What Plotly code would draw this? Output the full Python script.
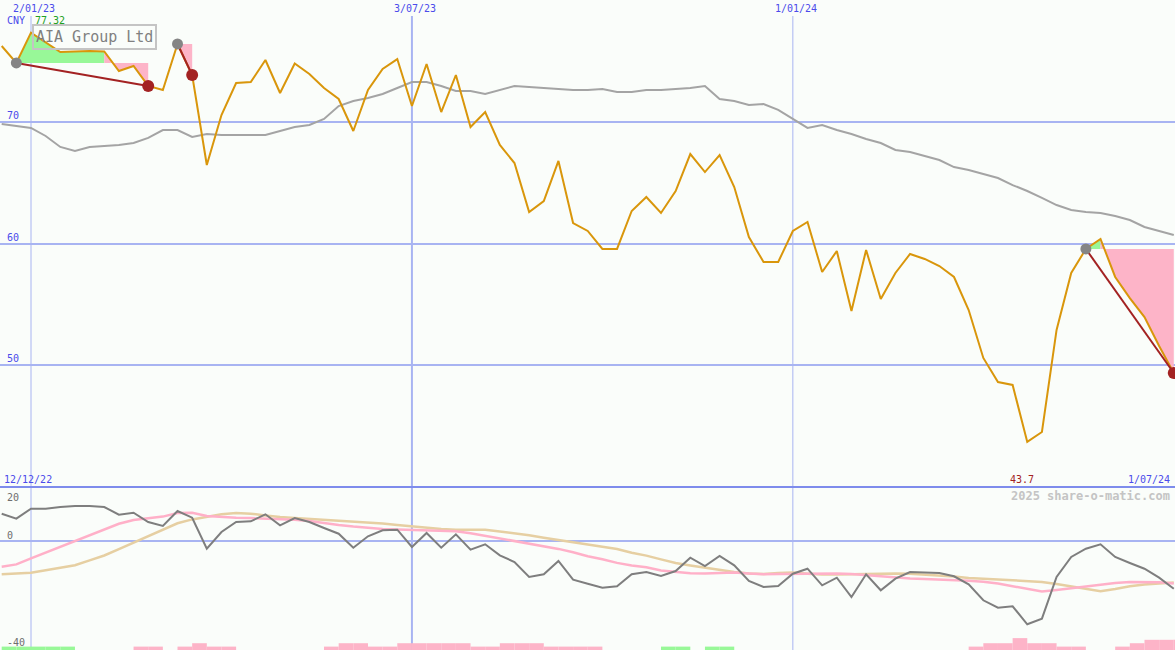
import plotly.graph_objects as go
import pandas as pd

# ---------------- data ----------------
dates = pd.date_range("2022-12-19", periods=81, freq="7D")

price = [76.22, 74.83, 77.32, 76.55, 75.73, 75.77, 75.81, 75.77, 74.17, 74.58,
         72.94, 72.61, 76.39, 73.84, 66.45, 70.55, 73.18, 73.26, 75.07, 72.36,
         74.78, 73.92, 72.77, 71.87, 69.24, 72.61, 74.33, 75.15, 71.29, 74.74,
         70.80, 73.84, 69.57, 70.80, 68.09, 66.61, 62.59, 63.49, 66.78, 61.68,
         61.03, 59.55, 59.55, 62.67, 63.82, 62.51, 64.31, 67.35, 65.87, 67.27,
         64.64, 60.53, 58.48, 58.48, 61.03, 61.77, 57.66, 59.38, 54.46, 59.47,
         55.44, 57.58, 59.14, 58.73, 58.15, 57.25, 54.54, 50.60, 48.62, 48.38,
         43.70, 44.52, 52.90, 57.58, 59.55, 60.37, 57.25, 55.52, 53.96, 51.58,
         49.36]

ma_price = [69.82, 69.65, 69.49, 68.83, 67.93, 67.60, 67.93, 68.01, 68.09, 68.25,
            68.67, 69.32, 69.32, 68.75, 68.99, 68.91, 68.91, 68.91, 68.91, 69.24,
            69.57, 69.73, 70.23, 71.29, 71.70, 71.95, 72.28, 72.77, 73.26, 73.26,
            72.94, 72.53, 72.53, 72.28, 72.61, 72.94, 72.85, 72.77, 72.69, 72.61,
            72.61, 72.69, 72.44, 72.44, 72.61, 72.61, 72.69, 72.77, 72.94, 71.87,
            71.70, 71.38, 71.46, 70.97, 70.23, 69.49, 69.73, 69.32, 68.99, 68.58,
            68.25, 67.68, 67.52, 67.19, 66.86, 66.28, 66.04, 65.71, 65.38, 64.80,
            64.31, 63.74, 63.16, 62.75, 62.59, 62.51, 62.26, 61.93, 61.36, 61.03,
            60.70]

osc = [10.92, 8.92, 12.92, 12.92, 13.6, 14.0, 14.0, 13.6, 10.52, 11.32,
       7.6, 6.0, 12.0, 9.32, -3.08, 3.6, 7.6, 7.88, 10.68, 6.28,
       9.2, 7.6, 5.2, 2.92, -2.68, 1.88, 4.28, 4.52, -2.4, 3.2,
       -2.68, 2.68, -3.48, -1.32, -5.72, -8.4, -14.4, -13.32, -8.0, -15.48,
       -17.08, -18.68, -18.12, -13.32, -12.4, -14.0, -12.0, -6.68, -10.0, -6.0,
       -9.72, -16.0, -18.4, -18.0, -13.08, -11.08, -17.72, -14.68, -22.4, -13.32,
       -19.72, -15.08, -12.4, -12.6, -12.8, -14.12, -17.32, -23.72, -26.68, -26.12,
       -33.32, -31.08, -14.4, -6.4, -3.08, -1.32, -6.4, -8.8, -11.08, -14.68,
       -19.08]

osc_fast = [-10.28, -9.36, -6.92, -4.64, -2.36, -0.08, 2.24, 4.8, 6.88, 8.4,
            9.08, 9.76, 11.2, 11.28, 10.0, 9.6, 9.28, 9.16, 9.04, 8.88,
            8.52, 8.0, 7.12, 6.4, 5.76, 5.24, 4.8, 4.56, 4.4, 4.28,
            4.08, 3.88, 3.12, 2.08, 1.0, -0.16, -1.2, -2.12, -3.16, -4.52,
            -6.08, -7.32, -8.76, -9.76, -10.48, -11.76, -12.4, -12.88, -12.96, -12.64,
            -12.56, -12.96, -13.32, -13.2, -13.08, -13.0, -12.88, -13.0, -13.24, -13.68,
            -14.2, -14.6, -14.96, -15.2, -15.4, -15.6, -15.88, -16.32, -17.04, -18.08,
            -19.08, -20.24, -19.64, -18.92, -18.16, -17.32, -16.76, -16.4, -16.4, -16.48,
            -17.04]

osc_slow = [-13.28, -13.04, -12.72, -11.72, -10.72, -9.72, -7.76, -5.8, -3.28, -0.72,
            2.12, 4.68, 7.08, 8.64, 9.8, 10.68, 11.2, 10.92, 10.24, 9.56,
            9.2, 8.84, 8.52, 8.2, 7.88, 7.44, 6.96, 6.4, 5.84, 5.2,
            4.8, 4.52, 4.52, 4.52, 3.84, 3.16, 2.28, 1.32, 0.44, -0.4,
            -1.48, -2.32, -3.24, -4.68, -5.84, -7.36, -8.8, -9.76, -10.64, -11.52,
            -12.36, -12.96, -13.24, -12.8, -12.6, -13.08, -13.44, -13.4, -13.28, -13.0,
            -12.8, -12.96, -13.12, -13.44, -13.76, -14.24, -14.76, -15.2, -15.44, -15.72,
            -16.04, -16.36, -17.24, -18.2, -19.16, -20.12, -19.2, -18.12, -17.36, -16.88,
            -16.56]

bar_up = [1, 1, 1, 1, 1, 0, 0, 0, 0, 0,
          0, 0, 0, 0, 0, 0, 0, 0, 0, 0,
          0, 0, 0, 0, 0, 0, 0, 0, 0, 0,
          0, 0, 0, 0, 0, 0, 0, 0, 0, 0,
          0, 0, 0, 0, 0, 1, 1, 0, 1, 1,
          0, 0, 0, 0, 0, 0, 0, 0, 0, 0,
          0, 0, 0, 0, 0, 0, 0, 0, 0, 0,
          0, 0, 0, 0, 0, 0, 0, 0, 0, 0,
          0]

bar_down = [0, 0, 0, 0, 0, 0, 0, 0, 0, 1,
            1, 0, 1, 2, 1, 1, 0, 0, 0, 0,
            0, 0, 1, 2, 2, 1, 1, 2, 2, 2,
            2, 2, 1, 1, 2, 2, 2, 1, 1, 1,
            1, 0, 0, 0, 0, 0, 0, 0, 0, 0,
            0, 0, 0, 0, 0, 0, 0, 0, 0, 0,
            0, 0, 0, 0, 0, 0, 1, 2, 2, 3.5,
            2, 2, 1, 1, 0, 0, 1, 2, 3, 3,
            3]

buy_idx = [1, 12, 74]
sell_idx = [10, 13, 80]

date_ticks = ["2023-01-02", "2023-07-03", "2024-01-01"]
date_tick_text = ["2/01/23", "3/07/23", "1/01/24"]
price_grid = [50, 60, 70]
osc_labels = [20, 0, -40]
start_label = "12/12/22"
end_label = "1/07/24"
currency = "CNY"
title = "AIA Group Ltd"
credit = "2025 share-o-matic.com"

# ---------------- style ----------------
BG = "#FAFDFA"
GRID = "#A8B4F2"
SEP = "#7E8CEC"
BLUE_TXT = "#4B4BEB"
ORANGE = "#D9960B"
PINK = "#FDB4C8"
GREEN = "#98F898"
DARKRED = "#A32222"
MONO = "DejaVu Sans Mono"

H = 650.0
W = 1175.0
split = 163 / H

fig = go.Figure()

# trade fills (between entry level and price)
for b, s in zip(buy_idx, sell_idx):
    level = price[b]
    i = b
    while i < s:
        up = price[i + 1] >= level
        j = i
        while j < s and (price[j + 1] >= level) == up:
            j += 1
        xs = [dates[i]] + list(dates[i:j + 1]) + [dates[j]]
        ys = [level] + price[i:j + 1] + [level]
        fig.add_trace(go.Scatter(x=xs, y=ys, fill="toself", mode="lines",
                                 line=dict(width=0), fillcolor=GREEN if up else PINK,
                                 hoverinfo="skip", yaxis="y"))
        i = j

# moving average of price
fig.add_trace(go.Scatter(x=dates, y=ma_price, mode="lines",
                         line=dict(color="#A4A4A4", width=2), yaxis="y"))
# price
fig.add_trace(go.Scatter(x=dates, y=price, mode="lines",
                         line=dict(color=ORANGE, width=2), yaxis="y"))
# trade lines
for b, s in zip(buy_idx, sell_idx):
    fig.add_trace(go.Scatter(x=[dates[b], dates[s]], y=[price[b], price[s]], mode="lines",
                             line=dict(color=DARKRED, width=2), yaxis="y"))
# entry / exit markers
fig.add_trace(go.Scatter(x=[dates[b] for b in buy_idx], y=[price[b] for b in buy_idx],
                         mode="markers", marker=dict(color="#858585", size=11), yaxis="y"))
fig.add_trace(go.Scatter(x=[dates[s] for s in sell_idx], y=[price[s] for s in sell_idx],
                         mode="markers", marker=dict(color=DARKRED, size=12), yaxis="y"))

# lower panel bars
week_ms = 7 * 24 * 3600 * 1000
fig.add_trace(go.Bar(x=dates, y=bar_up, marker=dict(color=GREEN, line=dict(width=0)),
                     width=week_ms, offset=0, yaxis="y3"))
fig.add_trace(go.Bar(x=dates, y=bar_down, marker=dict(color=PINK, line=dict(width=0)),
                     width=week_ms, offset=0, yaxis="y3"))

# lower panel lines
fig.add_trace(go.Scatter(x=dates, y=osc_slow, mode="lines",
                         line=dict(color="#E6CFA2", width=2.5), yaxis="y2"))
fig.add_trace(go.Scatter(x=dates, y=osc_fast, mode="lines",
                         line=dict(color="#FFB0C8", width=2.5), yaxis="y2"))
fig.add_trace(go.Scatter(x=dates, y=osc, mode="lines",
                         line=dict(color="#7E7E7E", width=2), yaxis="y2"))

# vertical date lines
shapes = []
for k, d in enumerate(date_ticks):
    shapes.append(dict(type="line", xref="x", yref="paper", x0=d, x1=d,
                       y0=0, y1=1 - 16 / H, layer="below",
                       line=dict(color=GRID, width=2 if k == 1 else 1)))
shapes.append(dict(type="line", xref="paper", yref="paper", x0=0, x1=1,
                   y0=split, y1=split, layer="below", line=dict(color=SEP, width=2)))

ann = []
for d, t in zip(date_ticks, date_tick_text):
    ann.append(dict(x=d, xref="x", y=1 - 8 / H, yref="paper", text=t, showarrow=False,
                    xanchor="center", yanchor="middle", xshift=3,
                    font=dict(family=MONO, size=10, color=BLUE_TXT)))
for v in price_grid:
    ann.append(dict(x=5 / W, xref="paper", y=v, yref="y", text=str(v), showarrow=False,
                    xanchor="left", yanchor="bottom", yshift=-1,
                    font=dict(family=MONO, size=10, color=BLUE_TXT)))
shifts = {20: -6, 0: 6, -40: -1}
for v in osc_labels:
    ann.append(dict(x=5 / W, xref="paper", y=v, yref="y2", text=str(v), showarrow=False,
                    xanchor="left", yanchor="middle", yshift=shifts[v],
                    font=dict(family=MONO, size=10, color="#6E6E6E")))

hi = max(price)
lo = min(price)
lo_i = price.index(lo)
ann += [
    dict(x=5 / W, xref="paper", y=1 - 21 / H, yref="paper", text=currency, showarrow=False,
         xanchor="left", yanchor="middle", font=dict(family=MONO, size=10, color=BLUE_TXT)),
    dict(x=33 / W, xref="paper", y=1 - 21 / H, yref="paper", text=f"{hi:.2f}", showarrow=False,
         xanchor="left", yanchor="middle", font=dict(family=MONO, size=10, color="#22A022")),
    dict(x=32 / W, xref="paper", y=1 - 24 / H, yref="paper", text=title, showarrow=False,
         xanchor="left", yanchor="top", bordercolor="#C4C4C4", borderwidth=2, borderpad=2,
         font=dict(family=MONO, size=15, color="#808080")),
    dict(x=2 / W, xref="paper", y=1 - 479 / H, yref="paper", text=start_label, showarrow=False,
         xanchor="left", yanchor="middle", font=dict(family=MONO, size=10, color=BLUE_TXT)),
    dict(x=1172 / W, xref="paper", y=1 - 479 / H, yref="paper", text=end_label, showarrow=False,
         xanchor="right", yanchor="middle", font=dict(family=MONO, size=10, color=BLUE_TXT)),
    dict(x=dates[lo_i], xref="x", y=1 - 479 / H, yref="paper", text=f"{lo:g}", showarrow=False,
         xanchor="center", yanchor="middle", xshift=-5,
         font=dict(family=MONO, size=10, color=DARKRED)),
    dict(x=1172 / W, xref="paper", y=1 - 496 / H, yref="paper", text=f"<b>{credit}</b>",
         showarrow=False, xanchor="right", yanchor="middle",
         font=dict(family=MONO, size=12, color="#C4C4C4")),
]

fig.update_layout(
    width=1175, height=650, margin=dict(l=0, r=0, t=0, b=0),
    paper_bgcolor=BG, plot_bgcolor=BG, showlegend=False, hovermode=False,
    barmode="overlay",
    xaxis=dict(type="date", range=["2022-12-18 04:30", "2024-07-01 14:00"],
               visible=False, showgrid=False, zeroline=False),
    yaxis=dict(domain=[split, 1], range=[40, 80], tickvals=price_grid,
               showticklabels=False, showgrid=True, gridcolor=GRID, gridwidth=2,
               zeroline=False, showline=False, ticks=""),
    yaxis2=dict(domain=[0, split], range=[-43.6, 21.6], tickvals=[0],
                showticklabels=False, showgrid=True, gridcolor=GRID, gridwidth=2,
                zeroline=False, showline=False, ticks=""),
    yaxis3=dict(overlaying="y2", range=[0, 48], visible=False, showgrid=False,
                zeroline=False),
    shapes=shapes, annotations=ann,
)

fig.write_html("out.html",
               config={"displayModeBar": False, "staticPlot": True},
               post_script="document.body.style.margin='0';document.body.style.padding='0';"
                           "document.body.style.overflow='hidden';"
                           "document.body.style.background='" + BG + "';")
